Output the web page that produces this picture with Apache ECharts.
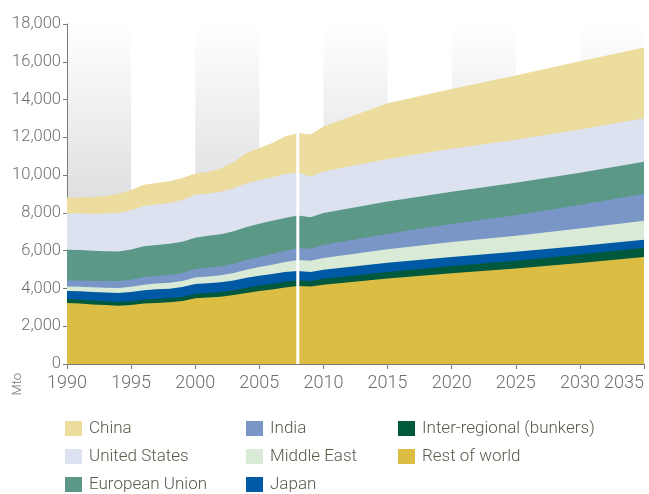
<!DOCTYPE html>
<html>
<head>
<meta charset="utf-8">
<script src="https://cdn.jsdelivr.net/npm/echarts@6/dist/echarts.min.js"></script>
<style>
  html, body { margin: 0; padding: 0; background: #fff; }
  #chart { width: 649px; height: 494px; }
</style>
</head>
<body>
<div id="chart"></div>
<script>
// years shared by every layer (annual history, then 5-year projections)
var years = [1990, 1991, 1992, 1993, 1994, 1995, 1996, 1997, 1998, 1999,
             2000, 2001, 2002, 2003, 2004, 2005, 2006, 2007, 2008, 2009,
             2010, 2015, 2020, 2025, 2030, 2035];

// Mtoe by region
var restOfWorld = [3230, 3200, 3150, 3120, 3090, 3120, 3200, 3230, 3270, 3330,
                   3480, 3520, 3560, 3650, 3760, 3860, 3950, 4050, 4130, 4100,
                   4200, 4520, 4800, 5050, 5350, 5670];
var bunkers     = [210, 210, 210, 200, 190, 200, 210, 220, 220, 230,
                   240, 240, 250, 260, 280, 290, 300, 310, 310, 300,
                   310, 350, 390, 420, 450, 480];
var japan       = [430, 440, 450, 460, 480, 490, 500, 510, 500, 510,
                   520, 515, 515, 510, 520, 520, 520, 510, 490, 470,
                   480, 490, 480, 470, 450, 430];
var middleEast  = [230, 240, 250, 260, 270, 280, 290, 300, 310, 320,
                   340, 360, 380, 400, 430, 460, 490, 530, 570, 590,
                   620, 720, 790, 850, 920, 1000];
var india       = [320, 330, 340, 350, 360, 370, 390, 400, 410, 430,
                   450, 460, 470, 490, 520, 540, 560, 590, 620, 650,
                   690, 820, 950, 1090, 1250, 1430];
var eu          = [1630, 1620, 1590, 1580, 1570, 1600, 1650, 1640, 1650, 1650,
                   1660, 1690, 1690, 1720, 1740, 1750, 1760, 1740, 1740, 1660,
                   1690, 1700, 1710, 1710, 1700, 1700];
var us          = [1920, 1930, 1960, 2000, 2040, 2080, 2130, 2150, 2160, 2210,
                   2270, 2230, 2260, 2270, 2310, 2320, 2300, 2330, 2280, 2160,
                   2200, 2250, 2270, 2280, 2290, 2300];
var china       = [840, 850, 890, 930, 1000, 1070, 1120, 1130, 1150, 1170,
                   1120, 1150, 1230, 1400, 1610, 1700, 1820, 1990, 2090, 2220,
                   2390, 2950, 3170, 3400, 3620, 3740];

var yTicks = [0, 2000, 4000, 6000, 8000, 10000, 12000, 14000, 16000, 18000];
var xTicks = [1990, 1995, 2000, 2005, 2010, 2015, 2020, 2025, 2030, 2035];
var splitYear = 2008;

// bottom to top
var layers = [
  { name: 'Rest of world', data: restOfWorld, color: '#dcbd43' },
  { name: 'Inter-regional (bunkers)', data: bunkers, color: '#00583d' },
  { name: 'Japan', data: japan, color: '#0059a5' },
  { name: 'Middle East', data: middleEast, color: '#d9ead7' },
  { name: 'India', data: india, color: '#7a96c7' },
  { name: 'European Union', data: eu, color: '#5b9887' },
  { name: 'United States', data: us, color: '#dce2f0' },
  { name: 'China', data: china, color: '#ecdc9d' }
];

var font = 'Roboto, "Liberation Sans", sans-serif';
var grey = '#6e6e6e';
var legendText = '#5a594b';

// running totals so each area is filled from zero and the next one down covers it
var running = years.map(function () { return 0; });
var stacked = layers.map(function (l) {
  running = running.map(function (s, i) { return s + l.data[i]; });
  return { layer: l, tops: running.slice() };
});

var series = stacked.slice().reverse().map(function (s) {
  return {
    name: s.layer.name,
    type: 'line',
    symbol: 'none',
    lineStyle: { width: 0 },
    areaStyle: { color: s.layer.color, opacity: 1 },
    itemStyle: { color: s.layer.color },
    data: years.map(function (y, i) { return [y, s.tops[i]]; })
  };
});

// white divider at the last historical year, up to the total
var idx = years.indexOf(splitYear);
series.push({
  name: 'divider',
  type: 'line',
  symbol: 'none',
  silent: true,
  z: 5,
  lineStyle: { color: '#ffffff', width: 3 },
  data: [[splitYear, 0], [splitYear, running[idx]]]
});

var legendBase = {
  orient: 'vertical',
  top: 420,
  padding: 0,
  icon: 'rect',
  itemWidth: 17,
  itemHeight: 15,
  itemGap: 11,
  selectedMode: false,
  textStyle: { fontFamily: font, fontWeight: 300, fontSize: 17, lineHeight: 16, color: legendText, padding: [0, 0, 0, 2] }
};

var chart = echarts.init(document.getElementById('chart'));
chart.setOption({
  animation: false,
  backgroundColor: '#ffffff',
  grid: { left: 67, right: 5, top: 24, bottom: 130 },
  legend: [
    Object.assign({ left: 65, data: ['China', 'United States', 'European Union'] }, legendBase),
    Object.assign({ left: 246, data: ['India', 'Middle East', 'Japan'] }, legendBase),
    Object.assign({ left: 398, data: ['Inter-regional (bunkers)', 'Rest of world'] }, legendBase)
  ],
  xAxis: {
    type: 'value',
    min: xTicks[0],
    max: xTicks[xTicks.length - 1],
    interval: 5,
    axisLine: { lineStyle: { color: '#7a7a7a', width: 1 } },
    axisTick: { length: 5, lineStyle: { color: '#7a7a7a' } },
    axisLabel: {
      fontFamily: font, fontWeight: 300, fontSize: 18, color: grey, margin: 10,
      alignMaxLabel: 'right',
      formatter: function (v) { return String(v); }
    },
    splitLine: { show: false },
    splitArea: {
      show: true,
      areaStyle: {
        color: [{
          type: 'linear', x: 0, y: 0, x2: 0, y2: 1,
          colorStops: [
            { offset: 0, color: '#ffffff' },
            { offset: 0.5, color: '#dfe0e2' },
            { offset: 1, color: '#dfe0e2' }
          ]
        }, 'rgba(255,255,255,0)']
      }
    }
  },
  yAxis: {
    type: 'value',
    min: yTicks[0],
    max: yTicks[yTicks.length - 1],
    interval: 2000,
    axisLine: { show: true, lineStyle: { color: '#7a7a7a', width: 1 } },
    axisTick: { show: true, length: 4, lineStyle: { color: '#7a7a7a' } },
    axisLabel: {
      fontFamily: font, fontWeight: 300, fontSize: 16.5, color: grey, margin: 6,
      formatter: function (v) { return v.toLocaleString('en-US'); }
    },
    splitLine: { show: false }
  },
  graphic: [{
    type: 'text',
    left: 11,
    top: 373,
    rotation: Math.PI / 2,
    style: { text: 'Mto', font: '300 13px ' + font, fill: grey }
  }],
  series: series
});
</script>
</body>
</html>
